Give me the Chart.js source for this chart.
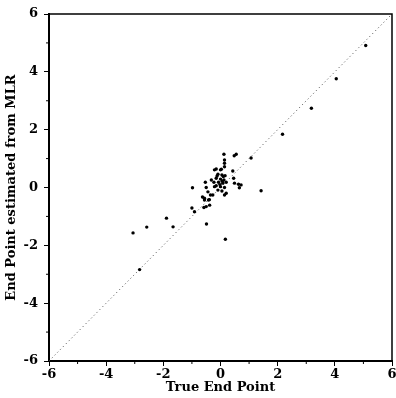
<!DOCTYPE html>
<html>
<head>
<meta charset="utf-8">
<script src="https://cdn.jsdelivr.net/npm/chart.js@4.4.0/dist/chart.umd.min.js"></script>
<style>
html, body { margin: 0; padding: 0; background: #fff; overflow: hidden; }
#wrap { width: 396px; height: 398px; }
</style>
</head>
<body>
<div id="wrap"><canvas id="chart"></canvas></div>
<script>
// true end point (x) vs end point estimated from MLR (y)
const trueEnd = [
    5.08, 4.05, 3.18, 2.17, 1.07, 1.42, 0.48, 0.55, 0.12, -0.98,
    -3.06, -2.58, -1.89, -1.66, -1.00, -2.83, -0.49, 0.17, -0.39, -0.58,
    -0.63, -0.56, 0.14, 0.14, 0.14, -0.15, 0.00, 0.43, 0.46, 0.49,
    0.63, 0.66, -0.50, -0.44, -0.27, -0.42, -0.50, 0.14, -0.09, 0.05,
    0.16, -0.15, 0.00, 0.12, -0.23, -0.07, 0.08, 0.20, -0.15, 0.00,
    0.14, -0.09, 0.05, -0.32, -0.21, -0.53, -0.35, -0.56, -0.38, 0.20,
    -0.91, 0.72, -0.21, 0.03, 0.10, -0.02, 0.06, -0.12
];
const mlrEnd = [
    4.91, 3.76, 2.74, 1.84, 1.02, -0.11, 1.10, 1.15, 1.15, -0.01,
    -1.57, -1.37, -1.06, -1.36, -0.71, -2.84, -1.26, -1.79, -0.42, -0.69,
    -0.33, -0.43, 0.95, 0.84, 0.72, 0.64, 0.61, 0.57, 0.32, 0.15,
    0.11, -0.01, 0.00, -0.15, -0.26, -0.43, -0.66, -0.26, 0.46, 0.43,
    0.41, 0.32, 0.29, 0.26, 0.18, 0.18, 0.15, 0.18, 0.06, 0.03,
    0.00, -0.09, -0.12, 0.26, 0.03, 0.18, -0.26, -0.37, -0.61, -0.20,
    -0.84, 0.09, 0.61, 0.63, 0.38, 0.10, 0.22, 0.40
];
// line of identity
const diagX = [-6, 6];
const diagY = [-6, 6];
const minorTicks = [-5, -3, -1, 1, 3, 5];

const points = trueEnd.map((x, i) => ({ x: x, y: mlrEnd[i] }));
const diag = diagX.map((x, i) => ({ x: x, y: diagY[i] }));

const font = { family: 'DejaVu Serif', weight: 'bold', size: 13 };

// top/right frame lines and short minor ticks
const framePlugin = {
    id: 'frame',
    afterDraw(chart) {
        const { ctx, chartArea: a, scales } = chart;
        ctx.save();
        ctx.strokeStyle = '#000';
        ctx.lineWidth = 1.5;
        ctx.beginPath();
        ctx.moveTo(a.left, a.top);
        ctx.lineTo(a.right, a.top);
        ctx.lineTo(a.right, a.bottom);
        ctx.stroke();
        ctx.lineWidth = 1;
        ctx.beginPath();
        minorTicks.forEach(v => {
            const px = scales.x.getPixelForValue(v);
            ctx.moveTo(px, a.bottom);
            ctx.lineTo(px, a.bottom + 3);
            const py = scales.y.getPixelForValue(v);
            ctx.moveTo(a.left, py);
            ctx.lineTo(a.left - 3, py);
        });
        ctx.stroke();
        ctx.restore();
    }
};

new Chart(document.getElementById('chart'), {
    type: 'scatter',
    data: {
        datasets: [
            {
                data: points,
                backgroundColor: '#000',
                borderWidth: 0,
                pointRadius: 1.7,
            },
            {
                type: 'line',
                data: diag,
                borderColor: '#444',
                borderWidth: 1,
                borderDash: [1, 3],
                pointRadius: 0,
                fill: false,
            }
        ]
    },
    options: {
        responsive: true,
        maintainAspectRatio: false,
        animation: false,
        layout: { padding: { top: 14, right: 3, left: 0, bottom: 0 } },
        plugins: {
            legend: { display: false },
            tooltip: { enabled: false }
        },
        scales: {
            x: {
                type: 'linear',
                min: -6,
                max: 6,
                ticks: { stepSize: 2, color: '#000', font: font, padding: 1, maxRotation: 0 },
                grid: { display: true, drawOnChartArea: false, tickLength: 5, color: '#000' },
                border: { display: true, color: '#000', width: 2 },
                title: { display: true, text: 'True End Point', color: '#000', font: font, padding: { top: 0, bottom: 3 } },
                afterFit(scale) {
                    scale.height = 37;
                    scale.paddingLeft = 0;
                    scale.paddingRight = 0;
                }
            },
            y: {
                type: 'linear',
                min: -6,
                max: 6,
                ticks: { stepSize: 2, color: '#000', font: font, padding: 6 },
                grid: { display: true, drawOnChartArea: false, tickLength: 5, color: '#000' },
                border: { display: true, color: '#000', width: 2 },
                title: { display: true, text: 'End Point estimated from MLR', color: '#000', font: font, padding: { top: 4, bottom: 0 } },
                afterFit(scale) {
                    scale.width = 49;
                    scale.paddingTop = 0;
                    scale.paddingBottom = 0;
                }
            }
        }
    },
    plugins: [framePlugin]
});
</script>
</body>
</html>
